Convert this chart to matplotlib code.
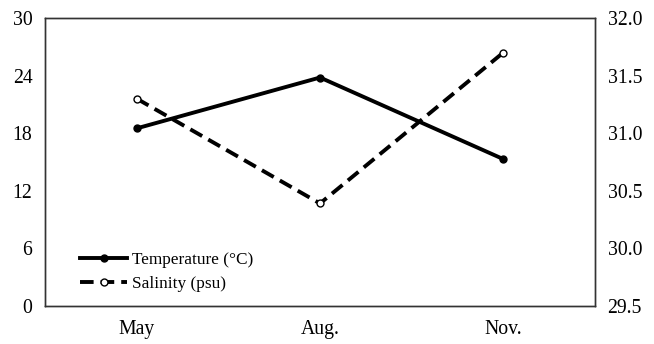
import matplotlib.pyplot as plt

plt.rcParams['font.family'] = ['Liberation Serif', 'DejaVu Serif']

# Data
months = ['May', 'Aug.', 'Nov.']
temperature = [18.5, 23.8, 15.3]
salinity = [31.30, 30.39, 31.70]

left_ticks = [0, 6, 12, 18, 24, 30]
right_ticks = [29.5, 30.0, 30.5, 31.0, 31.5, 32.0]

fig = plt.figure(figsize=(6.54, 3.44), dpi=100)
ax = fig.add_axes([0.0688, 0.1105, 0.841, 0.8372])
ax2 = ax.twinx()

x = range(len(months))

# Temperature on the left axis
l1, = ax.plot(x, temperature, '-', color='black', lw=2.8,
              marker='o', ms=5, mfc='black', mec='black', label='Temperature (°C)')
# Salinity on the right axis
l2, = ax2.plot(x, salinity, '--', color='black', lw=2.8, dashes=(3.5, 1.8),
               marker='o', ms=5, mfc='white', mec='black', mew=1, label='Salinity (psu)')

ax.set_xlim(-0.5, 2.5)
ax.set_ylim(0, 30)
ax.set_yticks(left_ticks)
ax.set_xticks(list(x))
ax.set_xticklabels(months)
ax2.set_ylim(29.5, 32.0)
ax2.set_yticks(right_ticks)
ax2.set_yticklabels(['{:.1f}'.format(v) for v in right_ticks])

for a in (ax, ax2):
    a.tick_params(length=0, labelsize=14.2, pad=9)
    for s in a.spines.values():
        s.set_color('#333333')
        s.set_linewidth(1.0)
ax.tick_params(axis='x', pad=10)

ax.legend(handles=[l1, l2], loc='lower left', bbox_to_anchor=(0.036, -0.006),
          frameon=False, fontsize=12.4, handlelength=2.7, handletextpad=0.3,
          labelspacing=0.45)

fig.savefig('out.png', dpi=100)
plt.close()
